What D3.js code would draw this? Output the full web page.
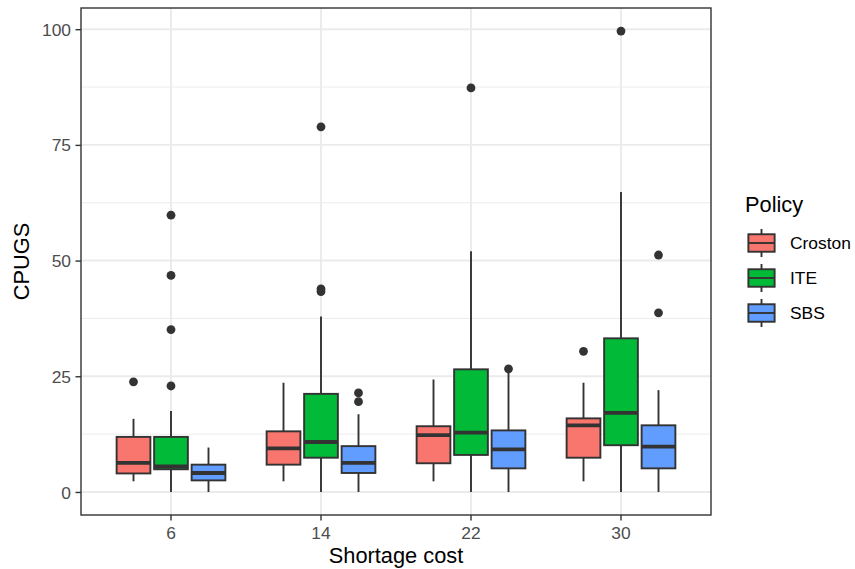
<!DOCTYPE html>
<html>
<head>
<meta charset="utf-8">
<script src="https://cdn.jsdelivr.net/npm/d3@7"></script>
<style>
  html, body { margin: 0; padding: 0; background: #fff; }
  svg { display: block; font-family: "Liberation Sans", Arial, sans-serif; }
</style>
</head>
<body>
<svg id="chart" width="855" height="569"></svg>
<script>
// Shortage cost levels on the x axis and the three policies compared
const costs = ["6", "14", "22", "30"];
const policies = ["Croston", "ITE", "SBS"];
const policyColors = ["#F8766D", "#00BA38", "#619CFF"];

// Box statistics per cost level: [lower whisker, Q1, median, Q3, upper whisker]
const crostonBox = [[2.3, 4.0, 6.3, 11.9, 15.8], [2.3, 5.9, 9.4, 13.1, 23.6], [2.3, 6.2, 12.3, 14.2, 24.3], [2.3, 7.4, 14.4, 15.9, 23.6]];
const iteBox     = [[0.0, 4.9, 5.5, 11.9, 17.5], [0.0, 7.4, 10.8, 21.2, 37.9], [0.0, 8.0, 12.8, 26.5, 52.0], [0.0, 10.1, 17.1, 33.2, 64.8]];
const sbsBox     = [[0.0, 2.5, 4.1, 5.9, 9.6], [0.0, 4.1, 6.3, 9.9, 16.8], [0.0, 5.1, 9.2, 13.3, 25.9], [0.0, 5.1, 9.8, 14.4, 22.0]];

// Outlying observations per cost level
const crostonOut = [[23.8], [], [], [30.4]];
const iteOut     = [[22.9, 35.1, 46.8, 59.8], [43.3, 43.9, 78.9], [87.3], [99.6]];
const sbsOut     = [[], [19.5, 21.4], [26.6], [38.7, 51.2]];

const yTicks = [0, 25, 50, 75, 100];
const yMinor = [12.5, 37.5, 62.5, 87.5];

const boxes = [crostonBox, iteBox, sbsBox];
const outs = [crostonOut, iteOut, sbsOut];

const svg = d3.select("#chart");
const panel = { left: 81, right: 711, top: 8, bottom: 515 };
const ink = "#333333";
const tickInk = "#4D4D4D";
const tickFont = 17.4;
const titleFont = 21.8;

// Discrete x positions with ggplot-like 0.6 unit expansion
const xUnit = d3.scaleLinear().domain([0.4, costs.length + 0.6]).range([panel.left, panel.right]);
const x = d3.scaleBand().domain(costs).range([xUnit(0.5), xUnit(costs.length + 0.5)]).padding(0);
const xc = c => x(c) + x.bandwidth() / 2;
const unitPx = xUnit(1) - xUnit(0);

// y domain spans all values with 5% expansion
const allVals = [];
boxes.forEach(b => b.forEach(s => allVals.push(...s)));
outs.forEach(o => o.forEach(v => allVals.push(...v)));
const vMin = d3.min(allVals), vMax = d3.max(allVals);
const pad = (vMax - vMin) * 0.05;
const y = d3.scaleLinear().domain([vMin - pad, vMax + pad]).range([panel.bottom, panel.top]);

// Panel background and grid
svg.append("rect").attr("x", panel.left).attr("y", panel.top)
  .attr("width", panel.right - panel.left).attr("height", panel.bottom - panel.top)
  .attr("fill", "#fff");

const grid = svg.append("g");
grid.selectAll(".minor").data(yMinor).join("line")
  .attr("x1", panel.left).attr("x2", panel.right)
  .attr("y1", d => y(d)).attr("y2", d => y(d))
  .attr("stroke", "#EBEBEB").attr("stroke-width", 0.95);
grid.selectAll(".major").data(yTicks).join("line")
  .attr("x1", panel.left).attr("x2", panel.right)
  .attr("y1", d => y(d)).attr("y2", d => y(d))
  .attr("stroke", "#EBEBEB").attr("stroke-width", 1.9);
grid.selectAll(".vmajor").data(costs).join("line")
  .attr("x1", d => xc(d)).attr("x2", d => xc(d))
  .attr("y1", panel.top).attr("y2", panel.bottom)
  .attr("stroke", "#EBEBEB").attr("stroke-width", 1.9);

// Boxplots, dodged within each cost level
const dodge = 0.25;            // slot width per policy in x units
const boxW = dodge * 0.9 * unitPx;
const marks = svg.append("g");
policies.forEach((p, pi) => {
  costs.forEach((c, ci) => {
    const s = boxes[pi][ci];
    const cx = xc(c) + (pi - 1) * dodge * unitPx;
    const g = marks.append("g");
    // whiskers
    g.append("line").attr("x1", cx).attr("x2", cx).attr("y1", y(s[3])).attr("y2", y(s[4]))
      .attr("stroke", ink).attr("stroke-width", 1.9);
    g.append("line").attr("x1", cx).attr("x2", cx).attr("y1", y(s[1])).attr("y2", y(s[0]))
      .attr("stroke", ink).attr("stroke-width", 1.9);
    // box
    g.append("rect").attr("x", cx - boxW / 2).attr("width", boxW)
      .attr("y", y(s[3])).attr("height", y(s[1]) - y(s[3]))
      .attr("fill", policyColors[pi]).attr("stroke", ink).attr("stroke-width", 1.9);
    // median
    g.append("line").attr("x1", cx - boxW / 2).attr("x2", cx + boxW / 2)
      .attr("y1", y(s[2])).attr("y2", y(s[2]))
      .attr("stroke", ink).attr("stroke-width", 3.8);
    // outliers
    g.selectAll("circle").data(outs[pi][ci]).join("circle")
      .attr("cx", cx).attr("cy", d => y(d)).attr("r", 4.4).attr("fill", ink);
  });
});

// Panel border
svg.append("rect").attr("x", panel.left).attr("y", panel.top)
  .attr("width", panel.right - panel.left).attr("height", panel.bottom - panel.top)
  .attr("fill", "none").attr("stroke", ink).attr("stroke-width", 1.4);

// Axes
const yAxis = svg.append("g").attr("transform", `translate(${panel.left},0)`)
  .call(d3.axisLeft(y).tickValues(yTicks).tickSize(5.5).tickPadding(4.5));
const xAxis = svg.append("g").attr("transform", `translate(0,${panel.bottom})`)
  .call(d3.axisBottom(x).tickSize(5.5).tickPadding(4));
[yAxis, xAxis].forEach(a => {
  a.select(".domain").remove();
  a.selectAll(".tick line").attr("stroke", ink).attr("stroke-width", 1.4);
  a.selectAll(".tick text").attr("fill", tickInk)
    .style("font-size", tickFont + "px").style("font-family", "'Liberation Sans', Arial, sans-serif");
});
xAxis.selectAll(".tick text").attr("dy", null).attr("y", 23.5);
yAxis.selectAll(".tick text").attr("dy", "0.35em");

// Axis titles
svg.append("text").attr("x", (panel.left + panel.right) / 2).attr("y", 563)
  .attr("text-anchor", "middle").style("font-size", titleFont + "px").attr("fill", "#000")
  .text("Shortage cost");
svg.append("text").attr("transform", `translate(29,${(panel.top + panel.bottom) / 2}) rotate(-90)`)
  .attr("text-anchor", "middle").style("font-size", titleFont + "px").attr("fill", "#000")
  .text("CPUGS");

// Legend
const legend = svg.append("g");
legend.append("text").attr("x", 745).attr("y", 211.5)
  .style("font-size", titleFont + "px").attr("fill", "#000").text("Policy");
const keySize = 35, keyX = 744, keyTop = 225.5;
policies.forEach((p, i) => {
  const ky = keyTop + i * keySize;
  const g = legend.append("g");
  const kcx = keyX + keySize / 2;
  g.append("line").attr("x1", kcx).attr("x2", kcx)
    .attr("y1", ky + 0.1 * keySize).attr("y2", ky + 0.9 * keySize)
    .attr("stroke", ink).attr("stroke-width", 1.9);
  g.append("rect").attr("x", keyX + 0.125 * keySize).attr("width", 0.75 * keySize)
    .attr("y", ky + 0.25 * keySize).attr("height", 0.5 * keySize)
    .attr("fill", policyColors[i]).attr("stroke", ink).attr("stroke-width", 1.9);
  g.append("line").attr("x1", keyX + 0.125 * keySize).attr("x2", keyX + 0.875 * keySize)
    .attr("y1", ky + keySize / 2).attr("y2", ky + keySize / 2)
    .attr("stroke", ink).attr("stroke-width", 1.9);
  g.append("text").attr("x", 790).attr("y", ky + keySize / 2).attr("dy", "0.35em")
    .style("font-size", tickFont + "px").attr("fill", "#000").text(p);
});
</script>
</body>
</html>
